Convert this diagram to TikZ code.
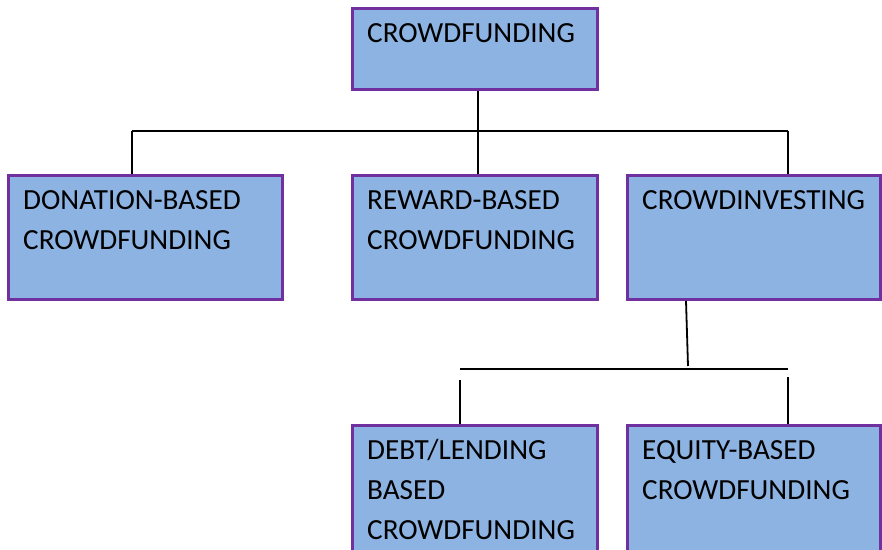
\documentclass[tikz,border=0pt]{standalone}
\usepackage{fontspec}
\setmainfont{Carlito}
\usetikzlibrary{positioning}

\definecolor{boxfill}{HTML}{8DB3E2}
\definecolor{boxline}{HTML}{7030A0}

\begin{document}
\begin{tikzpicture}[x=1pt, y=-1pt,
  box/.style={draw=boxline, fill=boxfill, line width=2.6pt, inner sep=0pt,
    minimum width=245.4pt, minimum height=124.4pt},
  lbl/.style={anchor=base west, inner sep=0pt, align=left,
    font=\fontsize{29.2}{40}\selectfont},
  link/.style={line width=1.8pt}]

\clip (0,0) rectangle (882,549);

\node[box, minimum height=81.4pt, anchor=north west] (crowd) at (351,7) {};
\node[box, below=83pt of crowd.south west, anchor=north west] (reward) {};
\node[box, left=67pt of reward, minimum width=274.4pt] (donation) {};
\node[box, right=27pt of reward, minimum width=253.4pt] (invest) {};
\node[box, below=123pt of reward.south west, anchor=north west, minimum height=140pt] (debt) {};
\node[box, below=123pt of invest.south west, anchor=north west, minimum width=253.4pt, minimum height=140pt] (equity) {};

% base west sits on the last line
\node[lbl] (crowdtxt) at ([shift={(16,35)}]crowd.north west) {CROWDFUNDING};
\node[lbl] (donationtxt) at ([shift={(16,75)}]donation.north west) {DONATION-BASED\\CROWDFUNDING};
\node[lbl] (rewardtxt) at ([shift={(16,75)}]reward.north west) {REWARD-BASED\\CROWDFUNDING};
\node[lbl] (investtxt) at ([shift={(16,35)}]invest.north west) {CROWDINVESTING};
\node[lbl] (debttxt) at ([shift={(16,115)}]debt.north west) {DEBT/LENDING\\BASED\\CROWDFUNDING};
\node[lbl] (equitytxt) at ([shift={(16,75)}]equity.north west) {EQUITY-BASED\\CROWDFUNDING};

\coordinate (barL) at (132,131);
\coordinate (barR) at (788,131);
\coordinate (splitT) at (686,301);
\coordinate (splitB) at (688,366);
\coordinate (subL) at (460,369);
\coordinate (subR) at (788,369);
\coordinate (dropL) at (460,380);
\coordinate (dropR) at (788,377);

\draw[link] ([xshift=3pt]crowd.south) -- ([xshift=3pt]reward.north);
\draw[link] (barL) -- (barR);
\draw[link] (barL) -- (barL |- donation.north);
\draw[link] (barR) -- (barR |- invest.north);

\draw[link] (splitT) -- (splitB);
\draw[link] (subL) -- (subR);
\draw[link] (dropL) -- (dropL |- debt.north);
\draw[link] (dropR) -- (dropR |- equity.north);

\end{tikzpicture}
\end{document}
